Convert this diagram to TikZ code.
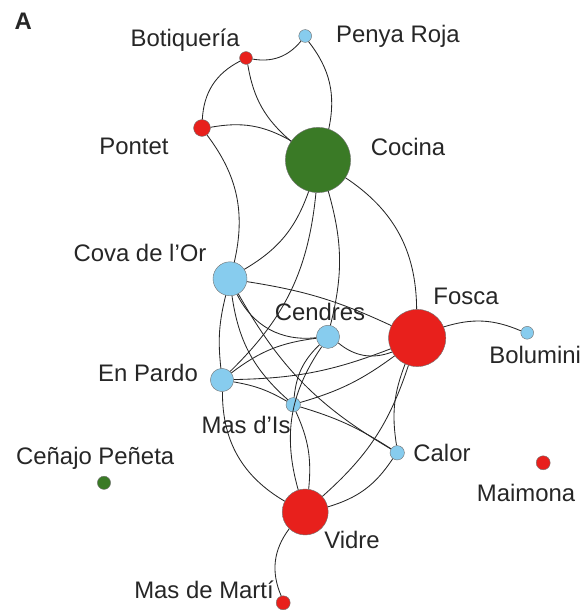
\documentclass[tikz,border=0pt]{standalone}
\usepackage{fontspec}
\setmainfont{Liberation Sans}
\usepackage{tikz}
\usetikzlibrary{positioning}

\definecolor{siteRed}{RGB}{232,32,28}
\definecolor{siteGreen}{RGB}{58,122,38}
\definecolor{siteBlue}{RGB}{135,204,238}

\begin{document}
\begin{tikzpicture}[
  scale=1.0,
  site/.style={circle,draw=black!55,line width=0.3pt,inner sep=0pt},
  redsite/.style={site,fill=siteRed},
  greensite/.style={site,fill=siteGreen},
  bluesite/.style={site,fill=siteBlue},
  sitename/.style={font=\fontsize{17}{20}\selectfont,text=black!85,inner sep=0pt},
  link/.style={line width=0.6pt,black!85}
]
\useasboundingbox (0,0) rectangle (14.55,15.25);

\node[sitename,font=\bfseries\fontsize{17}{20}\selectfont] (panel) at (0.58,14.73) {A};

% sites
\node[redsite,minimum size=3.2mm]   (bot)  at (6.15,13.80) {};
\node[bluesite,minimum size=3.2mm]  (pen)  at (7.63,14.35) {};
\node[redsite,minimum size=4.2mm]   (pon)  at (5.05,12.05) {};
\node[greensite,minimum size=16.3mm](coc)  at (7.95,11.25) {};
\node[bluesite,minimum size=8.5mm]  (cova) at (5.75,8.28)  {};
\node[bluesite,minimum size=5.8mm]  (cen)  at (8.20,6.83)  {};
\node[redsite,minimum size=14.3mm]  (fos)  at (10.43,6.80) {};
\node[bluesite,minimum size=3.2mm]  (bol)  at (13.18,6.93) {};
\node[bluesite,minimum size=5.8mm]  (enp)  at (5.55,5.75)  {};
\node[bluesite,minimum size=3.6mm]  (mas)  at (7.33,5.13)  {};
\node[bluesite,minimum size=3.6mm]  (cal)  at (9.93,3.93)  {};
\node[greensite,minimum size=3.3mm] (cen2) at (2.60,3.18)  {};
\node[redsite,minimum size=3.5mm]   (mai)  at (13.58,3.68) {};
\node[redsite,minimum size=11.5mm]  (vid)  at (7.63,2.45)  {};
\node[redsite,minimum size=3.5mm]   (mdm)  at (7.08,0.18)  {};

% names
\node[sitename] (lbot)  at (4.63,14.25) {Botiquería};
\node[sitename] (lpen)  at (9.95,14.33) {Penya Roja};
\node[sitename] (lpon)  at (3.35,11.58) {Pontet};
\node[sitename] (lcoc)  at (10.20,11.58) {Cocina};
\node[sitename] (lcova) at (3.50,8.93)  {Cova de l’Or};
\node[sitename] (lcen)  at (8.00,7.45)  {Cendres};
\node[sitename] (lfos)  at (11.65,7.83) {Fosca};
\node[sitename] (lbol)  at (13.38,6.38) {Bolumini};
\node[sitename] (lenp)  at (3.70,5.93)  {En Pardo};
\node[sitename] (lmas)  at (6.15,4.63)  {Mas d’Is};
\node[sitename] (lcen2) at (2.38,3.78)  {Ceñajo Peñeta};
\node[sitename] (lcal)  at (11.05,3.93) {Calor};
\node[sitename] (lmai)  at (13.15,2.93) {Maimona};
\node[sitename] (lvid)  at (8.80,1.75)  {Vidre};
\node[sitename] (lmdm)  at (5.10,0.50)  {Mas de Martí};

% shared links
\draw[link] (bot) to[bend right=30] (pen);
\draw[link] (bot) to[bend right=30] (pon);
\draw[link] (bot) to[bend right=20] (coc);
\draw[link] (pen) to[bend left=25] (coc);
\draw[link] (pon) to[bend left=20] (coc);
\draw[link] (pon) to[bend left=25] (cova);
\draw[link] (coc) to[bend left=20] (cova);
\draw[link] (coc) to[bend left=20] (enp);
\draw[link] (coc) to[bend left=15] (cen);
\draw[link] (coc) to[bend left=28] (fos);
\draw[link] (cova) to[bend left=8] (fos);
\draw[link] (cova) to[bend right=35] (cen);
\draw[link] (cova) to[bend right=10] (enp);
\draw[link] (cova) to[bend right=20] (mas);
\draw[link] (cova) to[bend right=15] (cal);
\draw[link] (enp) to[bend left=15] (cen);
\draw[link] (enp) to[bend right=10] (fos);
\draw[link] (enp) to[bend left=10] (mas);
\draw[link] (enp) to[bend right=30] (vid);
\draw[link] (cen) to[bend right=30] (fos);
\draw[link] (cen) to[bend right=20] (mas);
\draw[link] (cen) to[bend right=25] (vid);
\draw[link] (mas) to[bend right=10] (fos);
\draw[link] (mas) to[bend left=8] (cal);
\draw[link] (mas) to[bend left=15] (vid);
\draw[link] (fos) to[bend right=15] (cal);
\draw[link] (fos) to[bend left=15] (vid);
\draw[link] (cal) to[bend left=20] (vid);
\draw[link] (fos) to[bend left=20] (bol);
\draw[link] (vid) to[bend right=30] (mdm);
\end{tikzpicture}
\end{document}
